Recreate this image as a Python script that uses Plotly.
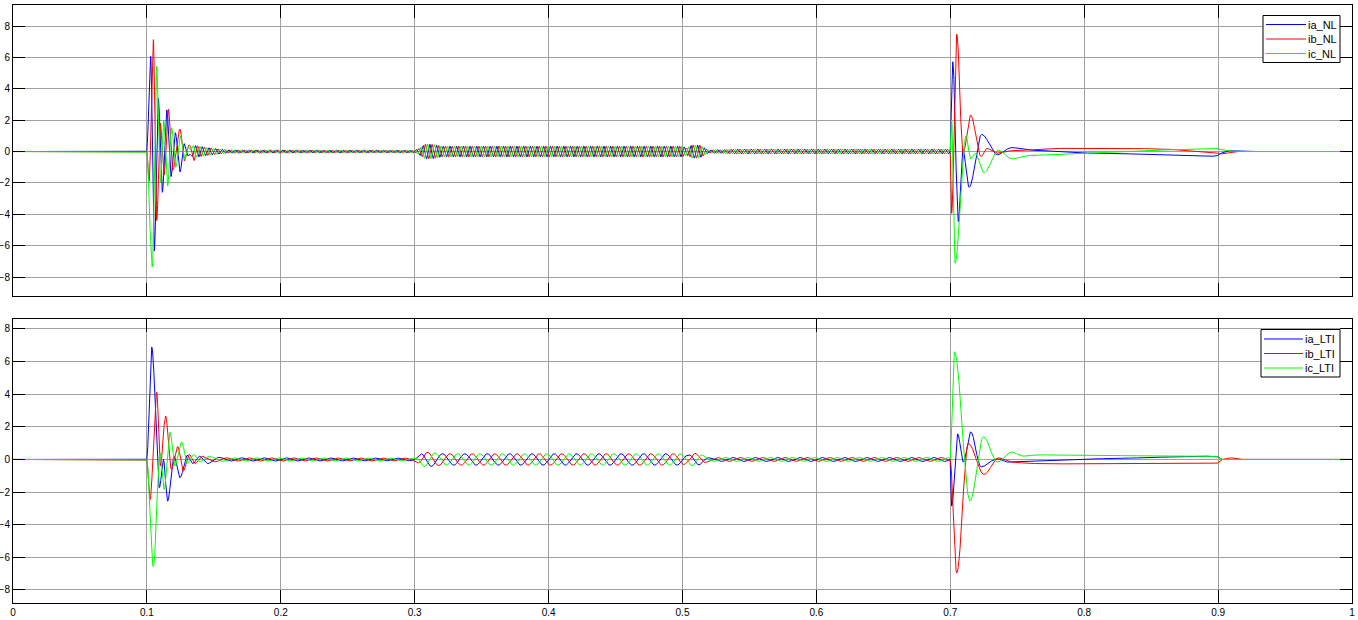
import numpy as np
import plotly.graph_objects as go

# ---------------- data ----------------
time_start, time_end, time_step = 0.0, 1.0, 0.0001

x_ticks = [0, 0.1, 0.2, 0.3, 0.4, 0.5, 0.6, 0.7, 0.8, 0.9, 1]
y_ticks = [-8, -6, -4, -2, 0, 2, 4, 6, 8]

# Upper panel (nonlinear model): extrema of the transients (time, value)
ia_nl_t = [0.0998, 0.1028, 0.1055, 0.1085, 0.1115, 0.1148, 0.1180, 0.1212, 0.1247, 0.1278, 0.1310, 0.1340,
           0.6998, 0.7018, 0.7060, 0.7093, 0.7140, 0.7234, 0.7351, 0.7458, 0.7595, 0.8017, 0.8985, 0.9022, 0.9085, 0.9150]
ia_nl_v = [0, 6.07, -6.35, 3.4, -2.6, 2.65, -1.6, 1.2, -1.3, 0.5, -0.4, 0.0,
           0, 5.72, -4.47, 0.15, -2.28, 1.09, -0.2, 0.25, 0.08, -0.1, -0.3, -0.1, 0.05, 0]
ib_nl_t = [0.1000, 0.1016, 0.1048, 0.1073, 0.1100, 0.1128, 0.1160, 0.1192, 0.1247, 0.1280, 0.1310, 0.1340, 0.1370,
           0.6998, 0.7010, 0.7048, 0.7095, 0.7152, 0.7229, 0.7271, 0.7351, 0.7450, 0.7800, 0.8017, 0.8515, 0.8985, 0.9022, 0.9150]
ib_nl_v = [0, -1.9, 7.13, -4.4, 1.8, -1.5, 2.7, -1.2, 1.44, -0.6, 0.5, -0.3, 0.0,
           0, -3.94, 7.48, -0.1, 2.32, -0.32, 0.2, -0.1, 0.05, 0.2, 0.23, 0.18, -0.05, -0.15, 0]
ic_nl_t = [0.0998, 0.1040, 0.1073, 0.1100, 0.1125, 0.1155, 0.1185, 0.1215, 0.1250, 0.1282, 0.1315, 0.1345,
           0.6998, 0.7010, 0.7035, 0.7117, 0.7152, 0.7185, 0.7252, 0.7359, 0.7458, 0.7595, 0.8017, 0.8985, 0.9022, 0.9150]
ic_nl_v = [0, -7.35, 5.43, -2.0, 2.0, -2.2, 1.5, -1.0, 1.0, -0.5, 0.4, 0.0,
           0, 2.0, -7.12, 0.99, -0.47, -0.1, -1.35, 0.08, -0.47, -0.25, -0.1, 0.2, 0.1, 0]

# Upper panel: amplitude of the steady three-phase ripple
env_nl_t = [0, 0.128, 0.135, 0.145, 0.160, 0.300, 0.303, 0.308, 0.314, 0.320, 0.500, 0.503, 0.507, 0.513, 0.519, 0.530, 0.540, 0.699, 0.700, 1.0]
env_nl_v = [0, 0, 0.4, 0.25, 0.1, 0.08, 0.2, 0.48, 0.45, 0.34, 0.34, 0.22, 0.42, 0.40, 0.1, 0.12, 0.15, 0.15, 0, 0]
freq_nl = 200.0

# Lower panel (LTI model): extrema of the transients
ia_lti_t = [0.0998, 0.1036, 0.1093, 0.1123, 0.1155, 0.1202, 0.1247, 0.1302, 0.1342, 0.1391, 0.1447, 0.1500,
            0.6998, 0.7010, 0.7055, 0.7097, 0.7152, 0.7229, 0.7351, 0.7420, 0.7550, 0.8017, 0.8985, 0.9030]
ia_lti_v = [0, 6.89, -1.74, 0.0, -2.56, 0.2, -1.12, 0.25, -0.25, 0.2, -0.2, 0,
            0, -2.86, 1.57, -0.16, 1.69, -0.45, 0.04, -0.16, -0.1, 0.04, 0.2, 0]
ib_lti_t = [0.0998, 0.1023, 0.1073, 0.1100, 0.1140, 0.1182, 0.1230, 0.1272, 0.1317, 0.1360, 0.1410, 0.1460,
            0.6998, 0.7048, 0.7134, 0.7252, 0.7359, 0.7458, 0.7600, 0.7800, 0.8985, 0.9030, 0.9093, 0.9150]
ib_lti_v = [0, -2.45, 4.13, -0.4, 2.66, -0.6, 0.8, -0.71, 0.3, -0.25, 0.2, 0,
            0, -6.95, 0.98, -0.92, 0.1, -0.16, -0.25, -0.27, -0.27, 0, 0.1, 0]
ic_lti_t = [0.0998, 0.1048, 0.1098, 0.1128, 0.1173, 0.1208, 0.1260, 0.1300, 0.1351, 0.1396, 0.1447, 0.1500,
            0.6998, 0.7030, 0.7147, 0.7247, 0.7351, 0.7458, 0.7545, 0.7643, 0.8017, 0.8985, 0.9022]
ic_lti_v = [0, -6.58, 0.4, -1.84, 1.68, -0.4, 1.06, -0.25, 0.3, -0.15, 0.15, 0,
            0, 6.6, -2.55, 1.39, -0.16, 0.45, 0.2, 0.28, 0.24, 0.2, 0]

env_lti_t = [0, 0.142, 0.150, 0.160, 0.300, 0.302, 0.307, 0.313, 0.320, 0.500, 0.503, 0.508, 0.514, 0.520, 0.530, 0.699, 0.700, 1.0]
env_lti_v = [0, 0, 0.15, 0.1, 0.08, 0.2, 0.45, 0.42, 0.35, 0.35, 0.25, 0.4, 0.3, 0.1, 0.12, 0.12, 0, 0]
freq_lti = 60.0

names_nl = ["ia_NL", "ib_NL", "ic_NL"]
names_lti = ["ia_LTI", "ib_LTI", "ic_LTI"]
phase_colors = ["#0000ff", "#ff0000", "#00ff00"]
phase_shift = [0.0, -2 * np.pi / 3, 2 * np.pi / 3]

# ---------------- build the curves ----------------
t = np.arange(time_start, time_end + time_step / 2, time_step)


def through_extrema(ts, vs, tt):
    ts = np.asarray(ts, float)
    vs = np.asarray(vs, float)
    out = np.zeros_like(tt)
    idx = np.searchsorted(ts, tt, side="right") - 1
    m = (idx >= 0) & (idx < len(ts) - 1)
    i = idx[m]
    s = (tt[m] - ts[i]) / (ts[i + 1] - ts[i])
    out[m] = vs[i] + (vs[i + 1] - vs[i]) * (1 - np.cos(np.pi * s)) / 2
    return out


def build(ext, env_t, env_v, freq):
    env = np.interp(t, env_t, env_v)
    res = []
    for (ts, vs), ph in zip(ext, phase_shift):
        res.append(through_extrema(ts, vs, t) + env * np.sin(2 * np.pi * freq * t + ph))
    return res


nl = build([(ia_nl_t, ia_nl_v), (ib_nl_t, ib_nl_v), (ic_nl_t, ic_nl_v)], env_nl_t, env_nl_v, freq_nl)
lti = build([(ia_lti_t, ia_lti_v), (ib_lti_t, ib_lti_v), (ic_lti_t, ic_lti_v)], env_lti_t, env_lti_v, freq_lti)

fig = go.Figure()
tx = np.round(t, 5)
for name, col, y in zip(names_nl, phase_colors, nl):
    fig.add_trace(go.Scatter(x=tx, y=np.round(y, 4), mode="lines", name=name,
                             line=dict(color=col, width=1), xaxis="x", yaxis="y", showlegend=False))
for name, col, y in zip(names_lti, phase_colors, lti):
    fig.add_trace(go.Scatter(x=tx, y=np.round(y, 4), mode="lines", name=name,
                             line=dict(color=col, width=1), xaxis="x2", yaxis="y2", showlegend=False))

W, H = 1358, 620
xdom = [13 / W, 1352 / W]
fam = "Liberation Sans, Arial, sans-serif"
tick_font = dict(family=fam, size=10, color="black")

common_x = dict(range=[0, 1], tickvals=x_ticks, showgrid=True, gridcolor="#a0a0a0", gridwidth=1,
                ticks="inside", ticklen=13, tickcolor="black", showline=True, linecolor="black",
                linewidth=1, mirror="ticks", zeroline=False, domain=xdom, automargin=False,
                tickfont=tick_font)
common_y = dict(tickvals=y_ticks, showgrid=True, gridcolor="#a0a0a0", gridwidth=1,
                ticks="inside", ticklen=12, tickcolor="black", showline=True, linecolor="black",
                linewidth=1, mirror="ticks", zeroline=False, automargin=False, tickfont=tick_font)

# ---- legends drawn as boxes with line samples and labels (compact, like the original scope) ----
shapes = []
annotations = []


def add_legend(names, x0, x1, y0, y1, line_x0, line_x1, text_x, rows):
    shapes.append(dict(type="rect", xref="paper", yref="paper",
                       x0=x0 / W, x1=x1 / W, y0=1 - y1 / H, y1=1 - y0 / H,
                       line=dict(color="black", width=1), fillcolor="white", layer="above"))
    for name, col, ry in zip(names, phase_colors, rows):
        shapes.append(dict(type="line", xref="paper", yref="paper",
                           x0=line_x0 / W, x1=line_x1 / W, y0=1 - ry / H, y1=1 - ry / H,
                           line=dict(color=col, width=1), layer="above"))
        annotations.append(dict(text=name, xref="paper", yref="paper", x=text_x / W, y=1 - ry / H,
                                xanchor="left", yanchor="middle", showarrow=False,
                                font=dict(family=fam, size=11, color="black")))


add_legend(names_nl, 1263, 1340, 15.5, 62.5, 1266, 1306, 1306, [24.5, 39, 53.5])
add_legend(names_lti, 1261, 1340, 329.5, 377, 1264, 1303, 1303, [339, 353.5, 368])

fig.update_layout(
    width=W, height=H,
    template="none",
    paper_bgcolor="white", plot_bgcolor="white",
    margin=dict(l=0, r=0, t=0, b=0),
    font=dict(family=fam, size=11, color="black"),
    xaxis=dict(anchor="y", showticklabels=False, **common_x),
    yaxis=dict(anchor="x", domain=[1 - 296 / H, 1 - 5 / H], range=[-9.21, 9.34], **common_y),
    xaxis2=dict(anchor="y2", showticklabels=True, **common_x),
    yaxis2=dict(anchor="x2", domain=[1 - 603 / H, 1 - 319 / H], range=[-8.8, 8.61], **common_y),
    shapes=shapes,
    annotations=annotations,
    showlegend=False,
)

fig.write_html("out.html", config={"displayModeBar": False},
               post_script="document.body.style.margin='0px';document.body.style.overflow='hidden';")
